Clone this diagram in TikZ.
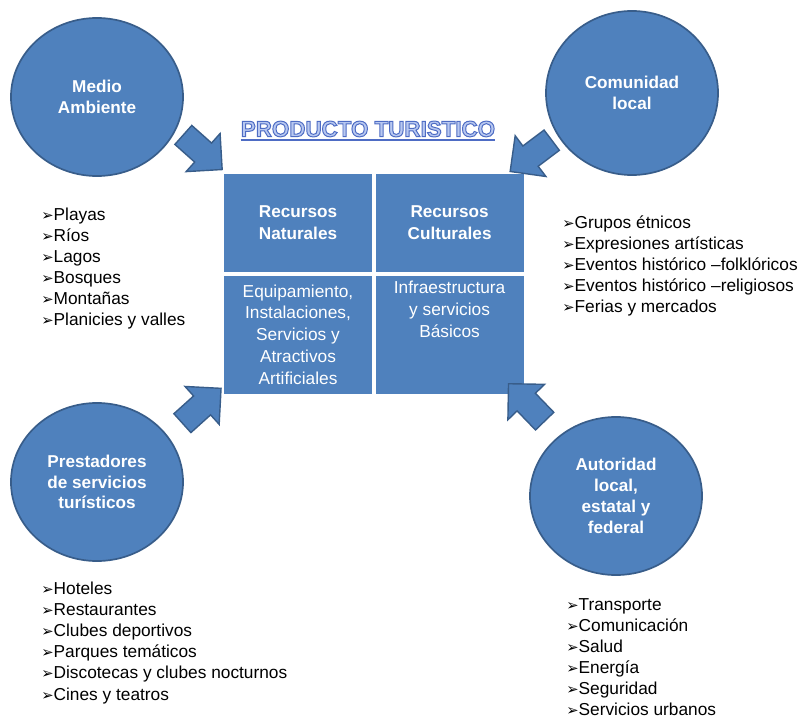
\documentclass[tikz,border=0pt]{standalone}
\usepackage{fontspec}
\setmainfont{Liberation Sans}
\newfontfamily\simbolos{DejaVu Sans}
\usepackage{tikz}
\usetikzlibrary{shapes,arrows,positioning,calc}

\definecolor{azul}{RGB}{79,129,189}
\definecolor{borde}{RGB}{56,93,138}
\definecolor{tituloin}{RGB}{184,200,240}
\definecolor{titulobd}{RGB}{78,108,196}

\newcommand{\flecha}{{\simbolos\fontsize{10.5}{10}\selectfont ➢}}
\newcommand{\contorno}[1]{%
  \special{pdf:literal direct 2 Tr 0.7 w 0.306 0.424 0.769 RG}#1\special{pdf:literal direct 0 Tr}}

\begin{document}
\begin{tikzpicture}[
    x=0.025cm, y=-0.025cm,
    circulo/.style={ellipse, draw=borde, line width=1.2pt, fill=azul, text=white, align=center,
        font=\bfseries\fontsize{12.2}{14.8}\selectfont, minimum width=4.3cm, minimum height=3.95cm, inner sep=0pt},
    celda/.style={rectangle, fill=azul, text=white, align=center, inner sep=0pt,
        font=\fontsize{12.3}{15.5}\selectfont, minimum width=3.7cm},
    bloque/.style={single arrow, draw=borde, fill=azul, line width=1pt, inner xsep=0pt, inner ysep=0.3cm,
        single arrow head extend=0.32cm, minimum height=1.3cm},
    item/.style={anchor=west, inner sep=0pt, text height=8pt, text depth=2.5pt,
        font=\fontsize{12.3}{14}\selectfont}
]
\useasboundingbox (0,0) rectangle (800,721);

\node[circulo] (medio) at (97,97) {Medio\\ Ambiente};
\node[circulo, minimum height=4.1cm] (comunidad) at (632,93) {Comunidad\\ local};
\node[circulo] (prestadores) at (97,482) {Prestadores\\ de servicios\\ turísticos};
\node[circulo] (autoridad) at (616,496) {Autoridad\\ local,\\ estatal y\\ federal};

\node[inner sep=0pt, text=tituloin, font=\bfseries\fontsize{15.9}{18}\selectfont] (titulo) at (368,129) {\contorno{PRODUCTO TURISTICO}};
\draw[titulobd, line width=1.2pt] ($(titulo.base west)+(0,3)$) -- ($(titulo.base east)+(0,3)$);

\node[celda, minimum height=2.45cm, font=\bfseries\fontsize{12.2}{15.5}\selectfont] (naturales) at (298,223) {Recursos\\ Naturales};
\node[celda, minimum height=2.45cm, font=\bfseries\fontsize{12.2}{15.5}\selectfont, right=0.075cm of naturales] (culturales) {Recursos\\ Culturales};
\node[celda, minimum height=2.95cm, below=0.075cm of naturales] (equipamiento) {Equipamiento,\\ Instalaciones,\\ Servicios y\\ Atractivos\\ Artificiales};
\node[celda, minimum height=2.95cm, below=0.075cm of culturales] (infra) {Infraestructura\\ y servicios\\ Básicos\\ \strut\\ \strut};

\node[bloque, rotate=-41.7] (fmedio) at (198,148) {};
\node[bloque, rotate=217] (fcomunidad) at (536,152) {};
\node[bloque, rotate=42] (fprestadores) at (197,410) {};
\node[bloque, rotate=134] (fautoridad) at (531,407) {};

\foreach \t [count=\i] in {Playas, Ríos, Lagos, Bosques, Montañas, Planicies y valles}
    \node[item] (amb-\i) at (41,{196+21*\i}) {\flecha\t};
\foreach \t [count=\i] in {Grupos étnicos, Expresiones artísticas, Eventos histórico –folklóricos, Eventos histórico –religiosos, Ferias y mercados}
    \node[item] (com-\i) at (562,{204+21*\i}) {\flecha\t};
\foreach \t [count=\i] in {Hoteles, Restaurantes, Clubes deportivos, Parques temáticos, Discotecas y clubes nocturnos, Cines y teatros}
    \node[item] (pre-\i) at (41,{569+21.2*\i}) {\flecha\t};
\foreach \t [count=\i] in {Transporte, Comunicación, Salud, Energía, Seguridad, Servicios urbanos}
    \node[item] (aut-\i) at (566,{586+21*\i}) {\flecha\t};

\end{tikzpicture}
\end{document}
